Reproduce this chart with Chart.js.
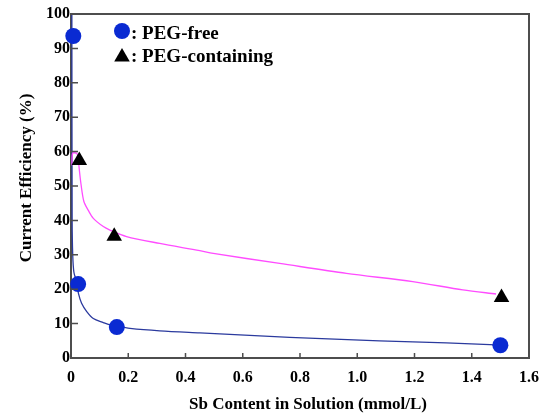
<!DOCTYPE html>
<html>
<head>
<meta charset="utf-8">
<script src="https://cdn.jsdelivr.net/npm/chart.js@4/dist/chart.umd.min.js"></script>
<style>
  html, body { margin: 0; padding: 0; background: #fff; }
  #wrap { width: 555px; height: 413px; }
</style>
</head>
<body>
<div id="wrap"><canvas id="effChart" width="555" height="413"></canvas></div>
<script>
// measured points
const pegFreeX = [0.008, 0.025, 0.16, 1.5];
const pegFreeY = [93.6, 21.5, 9.0, 3.7];
const pegContX = [0.029, 0.151, 1.504];
const pegContY = [57.4, 35.4, 17.6];

// fitted curves
const freeCurveX = [0.003, 0.004, 0.006, 0.01, 0.018, 0.026, 0.037, 0.055, 0.078, 0.113, 0.136, 0.16, 0.206, 0.31, 0.45, 0.764, 1.078, 1.311, 1.485];
const freeCurveY = [100, 40, 30, 25, 22.5, 18.8, 15.9, 13.5, 11.5, 10.3, 9.6, 9.2, 8.6, 7.9, 7.3, 6.0, 5.0, 4.4, 3.8];
const contCurveX = [0.003, 0.006, 0.02, 0.026, 0.028, 0.035, 0.045, 0.06, 0.078, 0.113, 0.136, 0.194, 0.31, 0.45, 0.497, 0.729, 0.962, 1.194, 1.369, 1.485];
const contCurveY = [56, 59.5, 59.5, 58, 55.6, 50.5, 45.5, 43, 40.6, 38.2, 37.2, 35.3, 33.3, 31.2, 30.4, 27.5, 24.6, 22.2, 19.8, 18.6];

const legendLabels = [': PEG-free', ': PEG-containing'];
const xTitle = 'Sb Content in Solution (mmol/L)';
const yTitle = 'Current Efficiency (%)';

const toXY = (xs, ys) => xs.map((x, i) => ({ x: x, y: ys[i] }));

const serif = '"Liberation Serif", "Times New Roman", serif';
const axisColor = '#4d4d4d';

// frame, inward ticks, legend and axis titles
const decor = {
    id: 'decor',
    afterDraw(chart) {
        const ctx = chart.ctx;
        const a = chart.chartArea;
        const xs = chart.scales.x;
        const ys = chart.scales.y;
        ctx.save();
        ctx.strokeStyle = axisColor;
        ctx.lineWidth = 2;
        ctx.beginPath();
        ctx.moveTo(a.left, a.top);
        ctx.lineTo(a.right, a.top);
        ctx.lineTo(a.right, a.bottom);
        ctx.stroke();

        ctx.lineWidth = 1.5;
        ctx.beginPath();
        xs.ticks.forEach(t => {
            const px = xs.getPixelForValue(t.value);
            ctx.moveTo(px, a.bottom);
            ctx.lineTo(px, a.bottom - 5);
        });
        ys.ticks.forEach(t => {
            const py = ys.getPixelForValue(t.value);
            ctx.moveTo(a.left, py);
            ctx.lineTo(a.left + 7, py);
        });
        ctx.stroke();

        // legend
        const ds = chart.data.datasets;
        const rows = [
            { d: ds[0], y: a.top + 17, ty: a.top + 20 },
            { d: ds[1], y: a.top + 43, ty: a.top + 43 }
        ];
        ctx.font = 'bold 19px ' + serif;
        ctx.textBaseline = 'middle';
        rows.forEach((r, i) => {
            const o = {
                pointStyle: r.d.pointStyle,
                radius: r.d.pointRadius,
                borderWidth: 0
            };
            ctx.fillStyle = r.d.backgroundColor;
            ctx.strokeStyle = r.d.backgroundColor;
            Chart.helpers.drawPoint(ctx, o, a.left + 51, r.y);
            ctx.fillStyle = '#000';
            ctx.fillText(legendLabels[i], a.left + 60, r.ty);
        });

        // axis titles
        ctx.font = 'bold 17px ' + serif;
        ctx.textAlign = 'center';
        ctx.fillText(xTitle, (a.left + a.right) / 2 + 8, 405);
        ctx.translate(27, (a.top + a.bottom) / 2 - 8);
        ctx.rotate(-Math.PI / 2);
        ctx.fillText(yTitle, 0, 0);
        ctx.restore();
    }
};

new Chart(document.getElementById('effChart'), {
    type: 'scatter',
    data: {
        datasets: [
            {
                label: 'PEG-free',
                data: toXY(pegFreeX, pegFreeY),
                pointStyle: 'circle',
                pointRadius: 8,
                backgroundColor: '#0a2ad2',
                borderWidth: 0,
                clip: false,
                order: 1
            },
            {
                label: 'PEG-containing',
                data: toXY(pegContX, pegContY),
                pointStyle: 'triangle',
                pointRadius: 9,
                backgroundColor: '#000000',
                borderWidth: 0,
                clip: false,
                order: 0
            },
            {
                label: 'PEG-free fit',
                data: toXY(freeCurveX, freeCurveY),
                showLine: true,
                pointRadius: 0,
                borderColor: '#2b3a9e',
                borderWidth: 1.3,
                tension: 0.3,
                order: 3
            },
            {
                label: 'PEG-containing fit',
                data: toXY(contCurveX, contCurveY),
                showLine: true,
                pointRadius: 0,
                borderColor: '#ff4cff',
                borderWidth: 1.3,
                tension: 0.3,
                order: 2
            }
        ]
    },
    options: {
        responsive: false,
        animation: false,
        layout: { padding: { left: 0, right: 26, top: 14, bottom: 0 } },
        plugins: {
            legend: { display: false },
            tooltip: { enabled: false }
        },
        scales: {
            x: {
                type: 'linear',
                min: 0,
                max: 1.6,
                afterFit: s => { s.height = 55; },
                grid: { display: false, drawTicks: false },
                border: { display: true, color: axisColor, width: 2 },
                ticks: {
                    stepSize: 0.2,
                    padding: 10,
                    color: '#000',
                    font: { family: serif, size: 16, weight: 'bold' },
                    callback: v => (v === 0 ? '0' : v.toFixed(1))
                }
            },
            y: {
                min: 0,
                max: 100,
                afterFit: s => { s.width = 71; },
                grid: { display: false, drawTicks: false },
                border: { display: true, color: axisColor, width: 2 },
                ticks: {
                    stepSize: 10,
                    padding: 1,
                    color: '#000',
                    font: { family: serif, size: 16, weight: 'bold' }
                }
            }
        }
    },
    plugins: [decor]
});
</script>
</body>
</html>
